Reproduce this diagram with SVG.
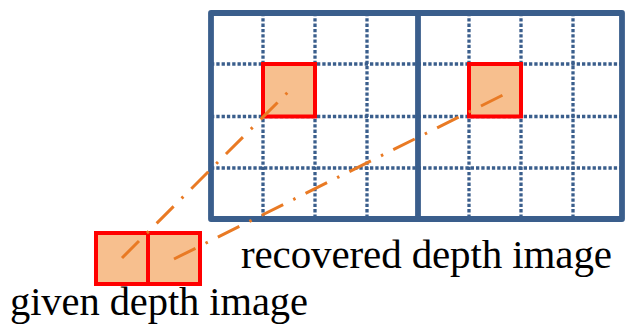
<svg xmlns="http://www.w3.org/2000/svg" width="627" height="327" viewBox="0 0 627 327">
<style>
.grid{stroke:#3A5E8C;stroke-width:3.3;stroke-dasharray:3.3 2;fill:none}
.frame{stroke:#3A5E8C;stroke-width:5.8;fill:none;stroke-linejoin:round}
.cell{fill:#F7BF8E;stroke:#FF0000;stroke-width:4}
.conn{stroke:#E97A24;stroke-width:3;fill:none;stroke-dasharray:24 11.25 2.5 11.25}
.lbl{font-family:"Liberation Serif","Times New Roman",serif;fill:#000}
</style>
<rect width="627" height="327" fill="#fff"/>
<g id="recovered">
<g class="grid">
<line x1="263" y1="13" x2="263" y2="219"/>
<line x1="315" y1="13" x2="315" y2="219"/>
<line x1="367" y1="13" x2="367" y2="219"/>
<line x1="469" y1="13" x2="469" y2="219"/>
<line x1="521" y1="13" x2="521" y2="219"/>
<line x1="573" y1="13" x2="573" y2="219"/>
<line x1="211" y1="64" x2="622" y2="64"/>
<line x1="211" y1="116.5" x2="622" y2="116.5"/>
<line x1="211" y1="168" x2="622" y2="168"/>
</g>
<rect class="frame" x="211" y="13" width="411" height="206"/>
<line class="frame" x1="418" y1="13" x2="418" y2="219"/>
</g>
<g id="cell-a"><rect class="cell" x="263" y="64" width="52" height="52.5"/></g>
<g id="cell-b"><rect class="cell" x="469" y="64" width="52" height="52.5"/></g>
<g id="given">
<rect class="cell" x="96" y="233" width="52" height="51"/>
<rect class="cell" x="148" y="233" width="52" height="51"/>
</g>
<g id="connectors">
<line class="conn" x1="122" y1="258" x2="288" y2="92"/>
<line class="conn" x1="174" y1="259" x2="505" y2="94"/>
</g>
<g id="labels">
<text class="lbl" x="241" y="268" font-size="41" textLength="371">recovered depth image</text>
<text class="lbl" x="10" y="315" font-size="40.5" textLength="298">given depth image</text>
</g>
</svg>
